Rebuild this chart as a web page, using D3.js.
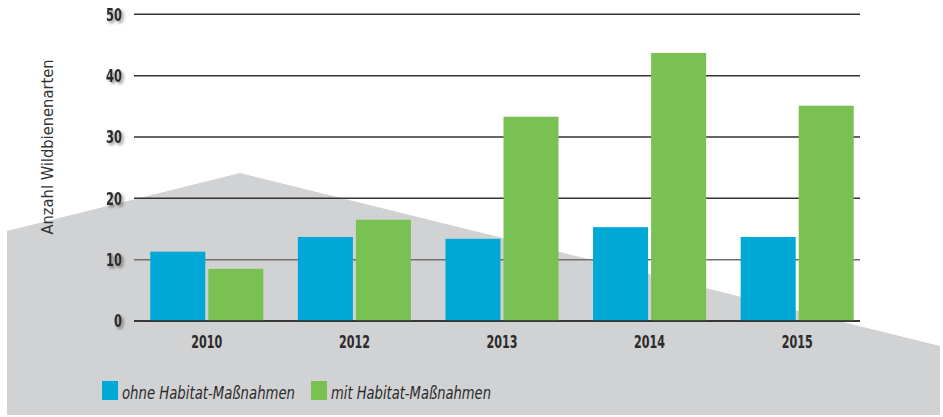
<!DOCTYPE html>
<html>
<head>
<meta charset="utf-8">
<script src="https://cdn.jsdelivr.net/npm/d3@7"></script>
<style>
  body { margin: 0; background: #fff; }
  svg { display: block; }
  .tick_label { font-family: "DejaVu Sans Condensed", "Liberation Sans Narrow", sans-serif; font-weight: bold; fill: #2b2b2b; }
  .legend_text { font-family: "DejaVu Sans Condensed", "Liberation Sans Narrow", sans-serif; font-style: italic; fill: #2b2b2b; }
</style>
</head>
<body>
<div id="chart"></div>
<script>

var years = ["2010", "2012", "2013", "2014", "2015"]
var series_names = ["ohne Habitat-Maßnahmen", "mit Habitat-Maßnahmen"]
var ohne_values = [11.3, 13.7, 13.4, 15.3, 13.7]
var mit_values = [8.5, 16.5, 33.3, 43.7, 35.1]
var y_ticks = [0, 10, 20, 30, 40, 50]
var y_title = "Anzahl Wildbienenarten"

var colours = ["#00a8d6", "#79c153"]

var width = 943, height = 417

var svg = d3.select("#chart").append("svg")
	.attr("width", width)
	.attr("height", height)

// soft shadow behind the axis numbers
var defs = svg.append("defs")
var filter = defs.append("filter").attr("id", "shadow")
	.attr("x", "-50%").attr("y", "-50%").attr("width", "200%").attr("height", "200%")
filter.append("feGaussianBlur").attr("in", "SourceAlpha").attr("stdDeviation", 1.6).attr("result", "blur")
filter.append("feOffset").attr("in", "blur").attr("dx", 1.5).attr("dy", 1.5).attr("result", "off")
filter.append("feComponentTransfer").attr("in", "off").attr("result", "soft")
	.append("feFuncA").attr("type", "linear").attr("slope", 0.45)
var merge = filter.append("feMerge")
merge.append("feMergeNode").attr("in", "soft")
merge.append("feMergeNode").attr("in", "SourceGraphic")

// grey background "roof" shape
svg.append("path")
	.attr("d", "M7,231 L240,173 L940,346 L940,415 L7,415 Z")
	.attr("fill", "#d1d2d4")

var y = d3.scaleLinear().domain([0, 50]).range([321, 14.3])

var x0 = d3.scaleBand().domain(years).range([133, 871])
	.paddingInner(0.234).paddingOuter(0.117)

var x1 = d3.scaleBand().domain([0, 1]).range([0, x0.bandwidth()])
	.paddingInner(0.052)

var grid_left = 134, grid_right = 860

// gridlines
svg.append("g").selectAll("line")
	.data(y_ticks)
	.enter()
	.append("line")
	.attr("x1", grid_left)
	.attr("x2", grid_right)
	.attr("y1", function(d) {return y(d)})
	.attr("y2", function(d) {return y(d)})
	.attr("stroke", function(d) {return d == 10 ? "#707070" : "#333"})
	.attr("stroke-width", 1.5)

// bars
function zip(a, b) {
	return a.map(function(d, i) {return [d, b[i]]})
}
var data = zip(ohne_values, mit_values)

var groups = svg.append("g").selectAll("g")
	.data(data)
	.enter()
	.append("g")
	.attr("transform", function(d, i) {return "translate(" + x0(years[i]) + ",0)"})

groups.selectAll("rect")
	.data(function(d) {return d})
	.enter()
	.append("rect")
	.attr("x", function(d, i) {return x1(i)})
	.attr("width", x1.bandwidth())
	.attr("y", function(d) {return y(d)})
	.attr("height", function(d) {return y(0) - y(d)})
	.attr("fill", function(d, i) {return colours[i]})

// zero line on top of bars
svg.append("line")
	.attr("x1", grid_left).attr("x2", grid_right)
	.attr("y1", y(0)).attr("y2", y(0))
	.attr("stroke", "#2b2b2b").attr("stroke-width", 1.6)

// y tick labels
svg.append("g").selectAll("text")
	.data(y_ticks)
	.enter()
	.append("text")
	.attr("class", "tick_label")
	.attr("x", 122)
	.attr("y", function(d) {return y(d)})
	.attr("dy", "0.36em")
	.attr("text-anchor", "end")
	.style("font-size", "18px")
	.attr("textLength", function(d) {return d == 0 ? 8 : 16})
	.attr("lengthAdjust", "spacingAndGlyphs")
	.attr("filter", "url(#shadow)")
	.text(function(d) {return d})

// year labels
svg.append("g").selectAll("text")
	.data(years)
	.enter()
	.append("text")
	.attr("class", "tick_label")
	.attr("x", function(d) {return x0(d) + x0.bandwidth() / 2})
	.attr("y", 348)
	.attr("text-anchor", "middle")
	.style("font-size", "17px")
	.attr("textLength", 31)
	.attr("lengthAdjust", "spacingAndGlyphs")
	.text(function(d) {return d})

// y axis title
svg.append("text")
	.attr("transform", "translate(53,147) rotate(-90)")
	.attr("text-anchor", "middle")
	.style("font-family", "'DejaVu Sans Condensed', sans-serif")
	.style("font-size", "15px")
	.attr("textLength", 175)
	.attr("lengthAdjust", "spacingAndGlyphs")
	.attr("fill", "#333")
	.text(y_title)

// legend
var legend_x = [102, 311]
var legend_len = [173, 160]
var legend = svg.append("g").selectAll("g")
	.data(series_names)
	.enter()
	.append("g")
	.attr("transform", function(d, i) {return "translate(" + legend_x[i] + ",381)"})

legend.append("rect")
	.attr("width", 16)
	.attr("height", 19)
	.attr("fill", function(d, i) {return colours[i]})

legend.append("text")
	.attr("class", "legend_text")
	.attr("x", 20)
	.attr("y", 18)
	.style("font-size", "18px")
	.attr("textLength", function(d, i) {return legend_len[i]})
	.attr("lengthAdjust", "spacingAndGlyphs")
	.text(function(d) {return d})

</script>
</body>
</html>
